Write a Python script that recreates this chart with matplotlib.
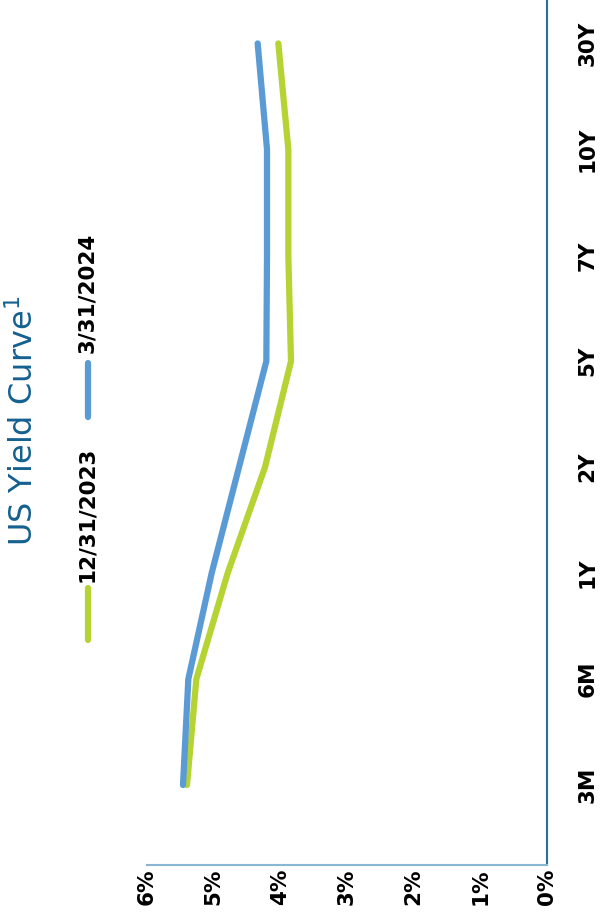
"""US yield curve, drawn sideways (page rotated 90 degrees)."""

import matplotlib

matplotlib.use("Agg")
import matplotlib.pyplot as plt
from matplotlib.lines import Line2D

TENORS = ["3M", "6M", "1Y", "2Y", "5Y", "7Y", "10Y", "30Y"]
YIELD_DEC23 = [5.40, 5.26, 4.79, 4.23, 3.84, 3.88, 3.88, 4.03]
YIELD_MAR24 = [5.46, 5.38, 5.03, 4.62, 4.21, 4.20, 4.20, 4.34]
PCT_TICKS = [0, 1, 2, 3, 4, 5, 6]
PCT_LABELS = [f"{v}%" for v in PCT_TICKS]

GREEN = "#b5d333"
BLUE = "#5b9bd5"
TITLE_BLUE = "#14608f"
FONT = ["DejaVu Sans"]
LABEL_SIZE = 15.5

plt.rcParams["mathtext.fontset"] = "dejavusans"

W, H = 601, 917
fig = plt.figure(figsize=(W / 100, H / 100), dpi=100)
ax = fig.add_axes([147 / W, 52 / H, 400 / W, 865 / H])

pos = list(range(len(TENORS)))
ax.plot(YIELD_DEC23, pos, color=GREEN, lw=4.5, solid_capstyle="round",
        solid_joinstyle="round")
ax.plot(YIELD_MAR24, pos, color=BLUE, lw=4.5, solid_capstyle="round",
        solid_joinstyle="round")

ax.set_xlim(6, 0)
ax.set_ylim(-0.755, 7.41)

ax.set_xticks(PCT_TICKS)
ax.set_xticklabels(PCT_LABELS, rotation=90, fontsize=LABEL_SIZE,
                   fontweight="bold", family=FONT)
ax.set_yticks(pos)
ax.set_yticklabels(TENORS, rotation=90, va="center", fontsize=LABEL_SIZE,
                   fontweight="bold", family=FONT)
ax.yaxis.tick_right()
ax.tick_params(axis="x", length=0, pad=2.5)
ax.tick_params(axis="y", length=0, pad=22)

for side in ("top", "left"):
    ax.spines[side].set_visible(False)
ax.spines["bottom"].set_color("#8ab6d6")
ax.spines["bottom"].set_linewidth(1.5)
ax.spines["right"].set_color("#2b6e9e")
ax.spines["right"].set_linewidth(1.5)

# title and legend, rotated with the page
fig.text(24 / W, 1 - 421 / H, "US Yield Curve$^{1}$", rotation=90,
         ha="center", va="center", fontsize=23, color=TITLE_BLUE, family=FONT)

legend_items = [(GREEN, "12/31/2023", 588, 640, 514),
                (BLUE, "3/31/2024", 363, 417, 293)]
for color, label, y0, y1, ytxt in legend_items:
    fig.add_artist(Line2D([88 / W, 88 / W], [1 - y0 / H, 1 - y1 / H],
                          transform=fig.transFigure, color=color, lw=4.5,
                          solid_capstyle="round"))
    fig.text(87 / W, 1 - ytxt / H, label, rotation=90, ha="center",
             va="center", fontsize=LABEL_SIZE, fontweight="bold", family=FONT)

fig.savefig("out.png", dpi=100)
